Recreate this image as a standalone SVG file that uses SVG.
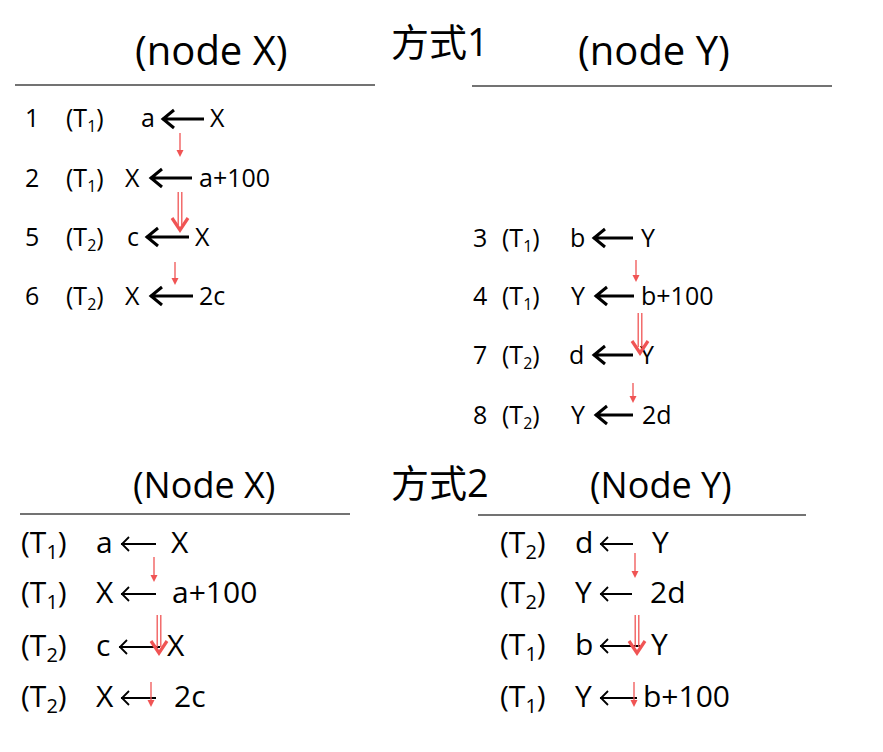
<svg xmlns="http://www.w3.org/2000/svg" width="883" height="752" viewBox="0 0 883 752">
<style>
text{font-family:"Open Sans","Noto Sans",sans-serif;fill:#000}
.t1{font-size:40px}
.t2{font-size:36px}
.cj{font-family:"Open Sans","Noto Sans CJK SC",sans-serif;font-size:38px}
.r{font-size:25px}
.b{font-size:30px}
.rs{font-size:16px}
.bs{font-size:20px}
.rule{stroke:#444;stroke-width:1.3;fill:none}
.ka{stroke:#000;stroke-width:3;fill:none;stroke-linejoin:miter}
.ta{stroke:#000;stroke-width:1.8;fill:none}
.rl{stroke:#f05454;stroke-width:1.3;fill:none}
.rh{fill:#f05454}
.rc{stroke:#f05454;stroke-width:3.2;fill:none;stroke-linejoin:miter}
</style>
<g id="titles">
<text class="t1" x="135" y="65">(node X)</text>
<text class="t1" x="578" y="65">(node Y)</text>
<text class="cj" x="391" y="56">方式1</text>
<text class="t2" x="133" y="498">(Node X)</text>
<text class="t2" x="590" y="498">(Node Y)</text>
<text class="cj" x="391" y="497">方式2</text>
</g>
<g id="rules">
<line class="rule" x1="15" y1="85" x2="375" y2="85"/>
<line class="rule" x1="472" y1="86" x2="832" y2="86"/>
<line class="rule" x1="20" y1="514" x2="350" y2="514"/>
<line class="rule" x1="478" y1="515" x2="806" y2="515"/>
</g>
<g id="node-x-1">
<text class="r" x="25" y="127">1</text><text class="r" x="66" y="127">(T<tspan class="rs" dy="5">1</tspan><tspan dy="-5">)</tspan></text><text class="r" x="141" y="127">a</text><text class="r" x="210" y="127">X</text>
<text class="r" x="25" y="187">2</text><text class="r" x="66" y="187">(T<tspan class="rs" dy="5">1</tspan><tspan dy="-5">)</tspan></text><text class="r" x="125" y="187">X</text><text class="r" x="199" y="187">a+100</text>
<text class="r" x="25" y="246">5</text><text class="r" x="66" y="246">(T<tspan class="rs" dy="5">2</tspan><tspan dy="-5">)</tspan></text><text class="r" x="127" y="246">c</text><text class="r" x="195" y="246">X</text>
<text class="r" x="25" y="305">6</text><text class="r" x="66" y="305">(T<tspan class="rs" dy="5">2</tspan><tspan dy="-5">)</tspan></text><text class="r" x="125" y="305">X</text><text class="r" x="199" y="305">2c</text>
</g>
<g id="node-y-1">
<text class="r" x="473" y="247">3</text><text class="r" x="502" y="247">(T<tspan class="rs" dy="5">1</tspan><tspan dy="-5">)</tspan></text><text class="r" x="570" y="247">b</text><text class="r" x="641" y="247">Y</text>
<text class="r" x="473" y="305">4</text><text class="r" x="502" y="305">(T<tspan class="rs" dy="5">1</tspan><tspan dy="-5">)</tspan></text><text class="r" x="571" y="305">Y</text><text class="r" x="641" y="305">b+100</text>
<text class="r" x="473" y="364">7</text><text class="r" x="502" y="364">(T<tspan class="rs" dy="5">2</tspan><tspan dy="-5">)</tspan></text><text class="r" x="569" y="364">d</text><text class="r" x="640" y="364">Y</text>
<text class="r" x="473" y="424">8</text><text class="r" x="502" y="424">(T<tspan class="rs" dy="5">2</tspan><tspan dy="-5">)</tspan></text><text class="r" x="571" y="424">Y</text><text class="r" x="642" y="424">2d</text>
</g>
<g id="node-x-2">
<text class="b" x="21" y="553">(T<tspan class="bs" dy="6">1</tspan><tspan dy="-6">)</tspan></text><text class="b" x="96" y="553">a</text><text class="b" x="171" y="553">X</text>
<text class="b" x="21" y="603">(T<tspan class="bs" dy="6">1</tspan><tspan dy="-6">)</tspan></text><text class="b" x="96" y="603">X</text><text class="b" x="172" y="603">a+100</text>
<text class="b" x="21" y="656">(T<tspan class="bs" dy="6">2</tspan><tspan dy="-6">)</tspan></text><text class="b" x="96" y="656">c</text><text class="b" x="167" y="656">X</text>
<text class="b" x="21" y="707">(T<tspan class="bs" dy="6">2</tspan><tspan dy="-6">)</tspan></text><text class="b" x="96" y="707">X</text><text class="b" x="174" y="707">2c</text>
</g>
<g id="node-y-2">
<text class="b" x="500" y="553">(T<tspan class="bs" dy="6">2</tspan><tspan dy="-6">)</tspan></text><text class="b" x="575" y="553">d</text><text class="b" x="652" y="553">Y</text>
<text class="b" x="500" y="603">(T<tspan class="bs" dy="6">2</tspan><tspan dy="-6">)</tspan></text><text class="b" x="575" y="603">Y</text><text class="b" x="650" y="603">2d</text>
<text class="b" x="500" y="655">(T<tspan class="bs" dy="6">1</tspan><tspan dy="-6">)</tspan></text><text class="b" x="575" y="655">b</text><text class="b" x="651" y="655">Y</text>
<text class="b" x="500" y="707">(T<tspan class="bs" dy="6">1</tspan><tspan dy="-6">)</tspan></text><text class="b" x="575" y="707">Y</text><text class="b" x="643" y="707">b+100</text>
</g>
<g id="connectors">
<path class="ka" d="M162,119 H204 M174,110 L163,119 L174,128"/>
<path class="ka" d="M150,178 H192 M162,169 L151,178 L162,187"/>
<path class="ka" d="M146,237 H189 M158,228 L147,237 L158,246"/>
<path class="ka" d="M150,296 H193 M162,287 L151,296 L162,305"/>
<path class="ka" d="M593,238 H633 M605,229 L594,238 L605,247"/>
<path class="ka" d="M595,296 H634 M607,287 L596,296 L607,305"/>
<path class="ka" d="M593,355 H633 M605,346 L594,355 L605,364"/>
<path class="ka" d="M595,415 H633 M607,406 L596,415 L607,424"/>
<path class="ta" d="M121,544 H156 M129,537 L122,544 L129,551"/>
<path class="ta" d="M121,594 H156 M129,587 L122,594 L129,601"/>
<path class="ta" d="M119,647 H160 M127,640 L120,647 L127,654"/>
<path class="ta" d="M121,698 H156 M129,691 L122,698 L129,705"/>
<path class="ta" d="M600,544 H633 M608,537 L601,544 L608,551"/>
<path class="ta" d="M600,594 H632 M608,587 L601,594 L608,601"/>
<path class="ta" d="M600,646 H640 M608,639 L601,646 L608,653"/>
<path class="ta" d="M600,698 H637 M608,691 L601,698 L608,705"/>
<line class="rl" x1="180" y1="133" x2="180" y2="151"/><polygon class="rh" points="176.5,150 183.5,150 180,157"/>
<line class="rl" x1="178.2" y1="192" x2="178.2" y2="225"/><line class="rl" x1="181.8" y1="192" x2="181.8" y2="225"/><polyline class="rc" points="172,218 180,230 188,218"/>
<line class="rl" x1="175" y1="262" x2="175" y2="279"/><polygon class="rh" points="171.5,278 178.5,278 175,285"/>
<line class="rl" x1="636" y1="260" x2="636" y2="276"/><polygon class="rh" points="632.5,275 639.5,275 636,282"/>
<line class="rl" x1="638.2" y1="313" x2="638.2" y2="347"/><line class="rl" x1="641.8" y1="313" x2="641.8" y2="347"/><polyline class="rc" points="632,341 640,353 648,341"/>
<line class="rl" x1="633" y1="383" x2="633" y2="397"/><polygon class="rh" points="629.5,396 636.5,396 633,403"/>
<line class="rl" x1="154" y1="557" x2="154" y2="576"/><polygon class="rh" points="150.5,575 157.5,575 154,582"/>
<line class="rl" x1="157.2" y1="615" x2="157.2" y2="647"/><line class="rl" x1="160.8" y1="615" x2="160.8" y2="647"/><polyline class="rc" points="151,641 159,653 167,641"/>
<line class="rl" x1="151" y1="682" x2="151" y2="701"/><polygon class="rh" points="147.5,700 154.5,700 151,707"/>
<line class="rl" x1="635" y1="553" x2="635" y2="572"/><polygon class="rh" points="631.5,571 638.5,571 635,578"/>
<line class="rl" x1="635.2" y1="615" x2="635.2" y2="647"/><line class="rl" x1="638.8" y1="615" x2="638.8" y2="647"/><polyline class="rc" points="629,641 637,653 645,641"/>
<line class="rl" x1="634" y1="682" x2="634" y2="701"/><polygon class="rh" points="630.5,700 637.5,700 634,707"/>
</g>
</svg>
